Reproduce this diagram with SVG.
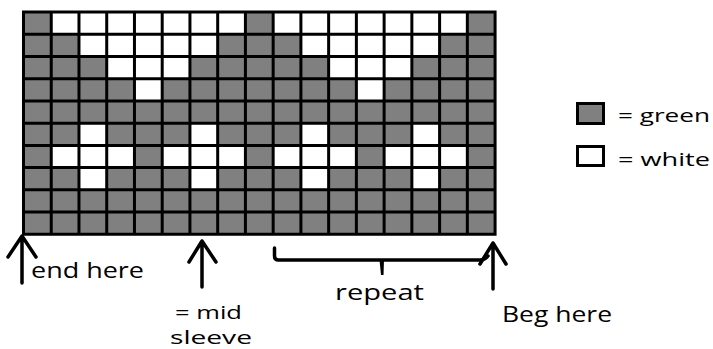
<svg xmlns="http://www.w3.org/2000/svg" width="713" height="349" viewBox="0 0 713 349">
<style>
.g{fill:#808080}
.w{fill:#ffffff}
.grid{fill:none;stroke:#000;stroke-width:3;stroke-linecap:square}
.ln{fill:none;stroke:#000;stroke-width:3.5;stroke-linecap:round;stroke-linejoin:round}
.t{font-family:"Open Sans","DejaVu Sans",sans-serif;font-size:21px;fill:#000}
.s{font-family:"Open Sans","DejaVu Sans",sans-serif;font-size:19px;fill:#000}
.lg{font-family:"Open Sans","DejaVu Sans",sans-serif;font-size:19px;fill:#000}
</style>
<rect width="713" height="349" fill="#fff"/>
<g id="chart">
<rect class="g" x="23.5" y="12" width="471.58" height="222.3"/>
<rect class="w" x="51.24" y="12" width="194.18" height="22.23"/>
<rect class="w" x="273.16" y="12" width="194.18" height="22.23"/>
<rect class="w" x="78.98" y="34.23" width="138.7" height="22.23"/>
<rect class="w" x="300.9" y="34.23" width="138.7" height="22.23"/>
<rect class="w" x="106.72" y="56.46" width="83.22" height="22.23"/>
<rect class="w" x="328.64" y="56.46" width="83.22" height="22.23"/>
<rect class="w" x="134.46" y="78.69" width="27.74" height="22.23"/>
<rect class="w" x="356.38" y="78.69" width="27.74" height="22.23"/>
<rect class="w" x="78.98" y="123.15" width="27.74" height="22.23"/>
<rect class="w" x="189.94" y="123.15" width="27.74" height="22.23"/>
<rect class="w" x="300.9" y="123.15" width="27.74" height="22.23"/>
<rect class="w" x="411.86" y="123.15" width="27.74" height="22.23"/>
<rect class="w" x="51.24" y="145.38" width="83.22" height="22.23"/>
<rect class="w" x="162.2" y="145.38" width="83.22" height="22.23"/>
<rect class="w" x="273.16" y="145.38" width="83.22" height="22.23"/>
<rect class="w" x="384.12" y="145.38" width="83.22" height="22.23"/>
<rect class="w" x="78.98" y="167.61" width="27.74" height="22.23"/>
<rect class="w" x="189.94" y="167.61" width="27.74" height="22.23"/>
<rect class="w" x="300.9" y="167.61" width="27.74" height="22.23"/>
<rect class="w" x="411.86" y="167.61" width="27.74" height="22.23"/>
<path class="grid" d="M23.5,12V234.3M51.24,12V234.3M78.98,12V234.3M106.72,12V234.3M134.46,12V234.3M162.2,12V234.3M189.94,12V234.3M217.68,12V234.3M245.42,12V234.3M273.16,12V234.3M300.9,12V234.3M328.64,12V234.3M356.38,12V234.3M384.12,12V234.3M411.86,12V234.3M439.6,12V234.3M467.34,12V234.3M495.08,12V234.3M23.5,12H495.08M23.5,34.23H495.08M23.5,56.46H495.08M23.5,78.69H495.08M23.5,100.92H495.08M23.5,123.15H495.08M23.5,145.38H495.08M23.5,167.61H495.08M23.5,189.84H495.08M23.5,212.07H495.08M23.5,234.3H495.08"/>
</g>
<g id="legend-green">
<rect x="577.5" y="103.5" width="26" height="20" fill="#808080" stroke="#000" stroke-width="3"/>
<text class="lg" x="618" y="122" textLength="92" lengthAdjust="spacingAndGlyphs">= green</text>
</g>
<g id="legend-white">
<rect x="577.5" y="146.5" width="26" height="19" fill="#fff" stroke="#000" stroke-width="3"/>
<text class="lg" x="618" y="166" textLength="92" lengthAdjust="spacingAndGlyphs">= white</text>
</g>
<g id="connectors">
<path class="ln" d="M22,237V283M8,257L22,236L36,257"/>
<path class="ln" d="M202,241V287M189,262L202,241L216,262"/>
<path class="ln" d="M493,243V289M480,264L493,243L506,264"/>
<path class="ln" d="M274.5,248V256Q274.5,260 278.5,260H480Q485,260 488,256"/>
<path d="M379.5,260L381,275L383.5,275L384,260Z" fill="#000"/>
</g>
<g id="labels">
<text class="t" x="31" y="278" textLength="113" lengthAdjust="spacingAndGlyphs">end here</text>
<text class="s" x="175" y="319" textLength="67" lengthAdjust="spacingAndGlyphs">= mid</text>
<text class="s" x="170" y="344" textLength="82" lengthAdjust="spacingAndGlyphs">sleeve</text>
<text class="t" x="335" y="300" textLength="89" lengthAdjust="spacingAndGlyphs">repeat</text>
<text class="t" x="502" y="322" textLength="110" lengthAdjust="spacingAndGlyphs">Beg here</text>
</g>
</svg>
